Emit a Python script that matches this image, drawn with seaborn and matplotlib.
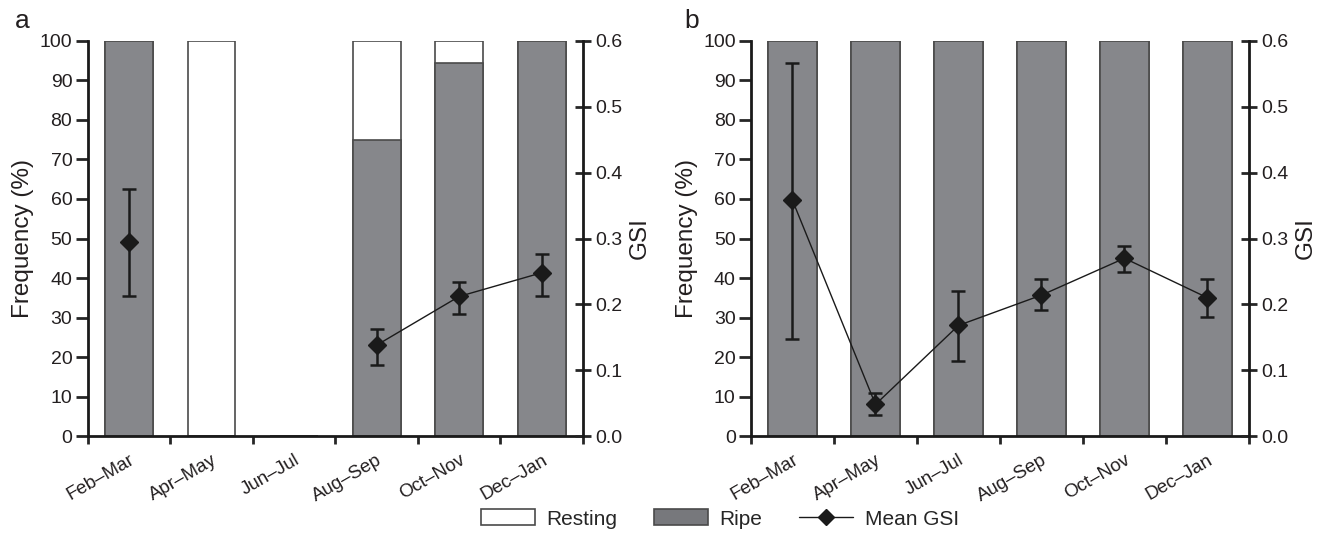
import numpy as np
import pandas as pd
import matplotlib
matplotlib.use("Agg")
import matplotlib.pyplot as plt
from matplotlib.patches import Patch
from matplotlib.lines import Line2D
import seaborn as sns

# bimonthly periods
periods = ["Feb–Mar", "Apr–May", "Jun–Jul", "Aug–Sep", "Oct–Nov", "Dec–Jan"]

# panel a: frequency (%) of stages and GSI
ripe_a = [100, 0, 0, 75, 94.3, 100]
resting_a = [0, 100, 0, 25, 5.7, 0]
gsi_a = [0.294, np.nan, np.nan, 0.138, 0.212, 0.248]
gsi_a_hi = [0.375, np.nan, np.nan, 0.162, 0.234, 0.276]
gsi_a_lo = [0.213, np.nan, np.nan, 0.108, 0.186, 0.213]

# panel b
ripe_b = [100, 100, 100, 100, 100, 100]
resting_b = [0, 0, 0, 0, 0, 0]
gsi_b = [0.358, 0.048, 0.168, 0.214, 0.270, 0.210]
gsi_b_hi = [0.566, 0.065, 0.221, 0.238, 0.288, 0.238]
gsi_b_lo = [0.148, 0.032, 0.114, 0.191, 0.249, 0.181]

freq_ticks = list(range(0, 101, 10))
gsi_ticks = [0.0, 0.1, 0.2, 0.3, 0.4, 0.5, 0.6]

sns.set_style("ticks")
plt.rcParams["font.family"] = ["Liberation Sans", "DejaVu Sans"]

GRAY = "#86878b"
EDGE = "#4a4a4a"
TXT = "#231f20"


def panel(ax, ripe, resting, gsi, hi, lo):
    df = pd.DataFrame({"period": periods, "ripe": ripe,
                       "total": np.array(ripe) + np.array(resting)})
    # total bar (white = resting) then ripe bar over it
    sns.barplot(data=df, x="period", y="total", order=periods, color="white",
                edgecolor=EDGE, linewidth=1.2, width=0.58, ax=ax, saturation=1)
    sns.barplot(data=df, x="period", y="ripe", order=periods, color=GRAY,
                edgecolor=EDGE, linewidth=1.2, width=0.58, ax=ax, saturation=1)
    ax.set_xlim(-0.5, len(periods) - 0.5)
    ax.set_ylim(0, 100)
    ax.set_yticks(freq_ticks)
    ax.set_xticks(np.arange(len(periods) + 1) - 0.5)
    ax.set_xticklabels([])
    ax.set_xticks(np.arange(len(periods)), minor=True)
    ax.set_xticklabels(periods, minor=True, rotation=30, ha="right",
                       rotation_mode="anchor", fontsize=13.5, color=TXT)
    ax.tick_params(axis="x", which="minor", length=0, pad=11)
    ax.tick_params(axis="x", which="major", length=6, width=2, direction="out")
    ax.tick_params(axis="y", length=9, width=2, direction="out", labelsize=14, pad=2,
                   labelcolor=TXT)
    ax.set_xlabel("")
    ax.set_ylabel("Frequency (%)", fontsize=17.5, color=TXT, labelpad=4)
    for s in ["left", "bottom"]:
        ax.spines[s].set_linewidth(2)
        ax.spines[s].set_color("#1a1a1a")
    ax.spines["top"].set_visible(False)
    ax.spines["right"].set_visible(False)

    ax2 = ax.twinx()
    x = np.arange(len(periods))
    g = np.array(gsi)
    yerr = np.vstack([g - np.array(lo), np.array(hi) - g])
    ax2.errorbar(x, g, yerr=yerr, color="#1a1a1a", lw=1, marker="D",
                 markersize=9.5, elinewidth=1.8, capsize=5, capthick=1.8)
    ax2.set_ylim(0, 0.6)
    ax2.set_yticks(gsi_ticks)
    ax2.set_yticklabels([f"{t:.1f}" for t in gsi_ticks])
    ax2.tick_params(axis="y", length=12, width=2, direction="inout", labelsize=14,
                    pad=3, labelcolor=TXT)
    ax2.set_ylabel("GSI", fontsize=17.5, color=TXT, labelpad=4)
    for s in ["top", "left", "bottom"]:
        ax2.spines[s].set_visible(False)
    ax2.spines["right"].set_linewidth(2)
    ax2.spines["right"].set_color("#1a1a1a")


fig = plt.figure(figsize=(13.28, 5.39), dpi=100)
ax_a = fig.add_axes([0.066, 0.191, 0.373, 0.733])
ax_b = fig.add_axes([0.5655, 0.191, 0.375, 0.733])
panel(ax_a, ripe_a, resting_a, gsi_a, gsi_a_hi, gsi_a_lo)
panel(ax_b, ripe_b, resting_b, gsi_b, gsi_b_hi, gsi_b_lo)
fig.text(0.011, 0.948, "a", fontsize=19, color=TXT, va="baseline", ha="left")
fig.text(0.515, 0.948, "b", fontsize=19, color=TXT, va="baseline", ha="left")

handles = [Patch(facecolor="white", edgecolor=EDGE, lw=1.2),
           Patch(facecolor="#77787c", edgecolor=EDGE, lw=1.2),
           Line2D([0], [0], color="#1a1a1a", lw=1, marker="D", markersize=8)]
fig.legend(handles, ["Resting", "Ripe", "Mean GSI"], loc="center",
           bbox_to_anchor=(0.542, 0.037), ncol=3, frameon=False, fontsize=15,
           handlelength=2.6, handleheight=0.8, columnspacing=1.75, handletextpad=0.55)

fig.savefig("out.png", dpi=100)
